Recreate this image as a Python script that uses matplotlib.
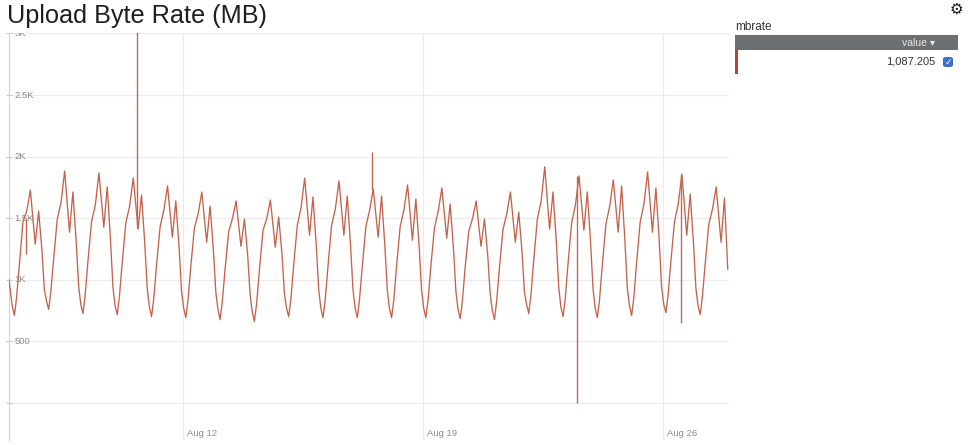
import pandas as pd
import matplotlib
matplotlib.use("Agg")
import matplotlib.pyplot as plt
import matplotlib.dates as mdates
import matplotlib.transforms as mtransforms
from matplotlib.patches import Rectangle, FancyBboxPatch

W, H = 977, 445

# upload rate in MB
start_time = "2019-08-06 22:15"
start_value = 1000
sample_hours = [0.5, 2, 3.5, 5.5, 8, 10.7, 13.2, 16.6, 19, 21.3, 23]
days = pd.date_range("2019-08-07", "2019-08-27", freq="D")
daily_mb = [
    [790, 710, 850, 1120, 1470, 1560, 1729, 1289, 1558, 1240, 920],
    [830, 760, 900, 1170, 1490, 1630, 1884, 1387, 1713, 1300, 950],
    [800, 726, 870, 1150, 1470, 1610, 1868, 1427, 1754, 1320, 940],
    [790, 718, 860, 1140, 1460, 1600, 1827, 1411, 1688, 1290, 930],
    [780, 701, 840, 1120, 1430, 1570, 1762, 1346, 1640, 1260, 910],
    [770, 693, 830, 1110, 1420, 1540, 1713, 1305, 1599, 1240, 900],
    [760, 677, 820, 1090, 1390, 1500, 1640, 1272, 1493, 1200, 880],
    [740, 661, 800, 1080, 1400, 1500, 1648, 1264, 1509, 1210, 890],
    [770, 701, 840, 1120, 1440, 1590, 1827, 1362, 1672, 1280, 920],
    [770, 693, 830, 1110, 1440, 1580, 1803, 1362, 1680, 1280, 920],
    [770, 693, 830, 1110, 1430, 1570, 1737, 1346, 1680, 1280, 920],
    [770, 693, 830, 1110, 1430, 1570, 1770, 1321, 1656, 1270, 915],
    [770, 693, 830, 1110, 1420, 1560, 1745, 1338, 1615, 1260, 910],
    [760, 685, 820, 1100, 1390, 1500, 1640, 1272, 1493, 1200, 890],
    [750, 677, 820, 1100, 1410, 1540, 1713, 1305, 1550, 1230, 900],
    [800, 726, 870, 1160, 1490, 1640, 1917, 1411, 1713, 1310, 940],
    [780, 701, 840, 1130, 1460, 1610, 1843, 1403, 1713, 1300, 930],
    [770, 693, 830, 1120, 1450, 1600, 1811, 1387, 1762, 1320, 930],
    [790, 710, 850, 1140, 1470, 1620, 1876, 1387, 1745, 1320, 940],
    [800, 734, 870, 1150, 1470, 1620, 1860, 1362, 1697, 1300, 930],
    [790, 718, 860, 1130, 1450, 1580, 1754, 1305, 1664, 1087.205],
]
spike_times = ["2019-08-07 10:06", "2019-08-10 15:48", "2019-08-17 12:18",
               "2019-08-23 11:48", "2019-08-26 12:30"]
spike_from = [1490, 1420, 1730, 1840, 1850]
spike_to = [1210, 3100, 2039, 0, 652]

y_ticks = [0, 500, 1000, 1500, 2000, 2500, 3000]
y_tick_labels = ["", "500", "1K", "1.5K", "2K", "2.5K", "3K"]
x_ticks = ["2019-08-12", "2019-08-19", "2019-08-26"]
x_end = "2019-08-27 22:10"

line_color = "#c6624b"
font = ["Liberation Sans", "DejaVu Sans"]
plt.rcParams["font.family"] = font


def px(x, y):
    "pixel position (from top left) to figure fraction"
    return x / W, 1 - y / H


times = [pd.Timestamp(start_time)]
values = [start_value]
for day, row in zip(days, daily_mb):
    for h, v in zip(sample_hours, row):
        times.append(day + pd.Timedelta(hours=h))
        values.append(v)
last_value = values[-1]

fig = plt.figure(figsize=(W / 100, H / 100), dpi=100)
fig.patch.set_facecolor("white")

ax = fig.add_axes([9 / W, 5 / H, 720 / W, 406.6 / H])
ax.plot(times, values, color=line_color, lw=0.95, zorder=3)
ax.vlines(pd.to_datetime(spike_times), spike_from, spike_to,
          color=line_color, lw=0.95, zorder=3)

ax.set_ylim(-300, 3000)
ax.set_xlim(pd.Timestamp(start_time), pd.Timestamp(x_end))

for s in ["top", "right", "bottom"]:
    ax.spines[s].set_visible(False)
ax.spines["left"].set_color("#d4d4d4")
ax.spines["left"].set_linewidth(0.8)

ax.set_yticks(y_ticks)
ax.set_xticks(pd.to_datetime(x_ticks))
ax.tick_params(axis="y", direction="inout", length=5, width=0.8,
               color="#c8c8c8", labelleft=False)
ax.tick_params(axis="x", length=0, labelbottom=False)
ax.grid(True, color="#ebebeb", lw=0.8, zorder=0)

# tick labels sit inside the plot, as in the dashboard
for y, lab in zip(y_ticks, y_tick_labels):
    ax.text(0.008, y, lab, transform=ax.get_yaxis_transform(), ha="left",
            va="center", fontsize=6.8, color="#8a8a8a", clip_on=True)
xlab_tr = mtransforms.offset_copy(ax.get_xaxis_transform(), fig=fig,
                                  x=4, y=0, units="dots")
for d in pd.to_datetime(x_ticks):
    ax.text(d, 0.017, d.strftime("%b %d"), transform=xlab_tr, ha="left",
            va="center", fontsize=6.8, color="#8a8a8a")

# title
fig.text(*px(7, 16), "Upload Byte Rate (MB)", fontsize=18.2, color="#1e1e1e",
         ha="left", va="center")

# legend table on the right
fig.text(*px(735, 26.5), "mbrate", fontsize=8.5, color="#333333",
         ha="left", va="center")
fig.add_artist(Rectangle(px(735, 49.5), 223 / W, 14.5 / H,
                         transform=fig.transFigure, color="#6c6f72", lw=0))
fig.text(*px(935, 42.5), "value \u25be", fontsize=7.5, color="#e8e8e8",
         ha="right", va="center", family=font)
fig.add_artist(Rectangle(px(735, 74), 2.5 / W, 24.5 / H,
                         transform=fig.transFigure, color="#b5473a", lw=0))
fig.text(*px(935, 62), f"{last_value:,.3f}", fontsize=8, color="#333333",
         ha="right", va="center")
fig.add_artist(FancyBboxPatch(px(943.5, 66.5), 9 / W, 9 / H,
                              boxstyle="round,pad=0,rounding_size=0.003",
                              transform=fig.transFigure, fc="#3b72d4",
                              ec="#2d5db5", lw=0.6))
fig.text(*px(948, 62), "\u2713", fontsize=6.5, color="white", ha="center",
         va="center", family=["DejaVu Sans"], weight="bold")
fig.text(*px(956, 9), "\u2699", fontsize=11, color="#111111", ha="center",
         va="center", family=["DejaVu Sans"])

fig.savefig("out.png", dpi=100)
